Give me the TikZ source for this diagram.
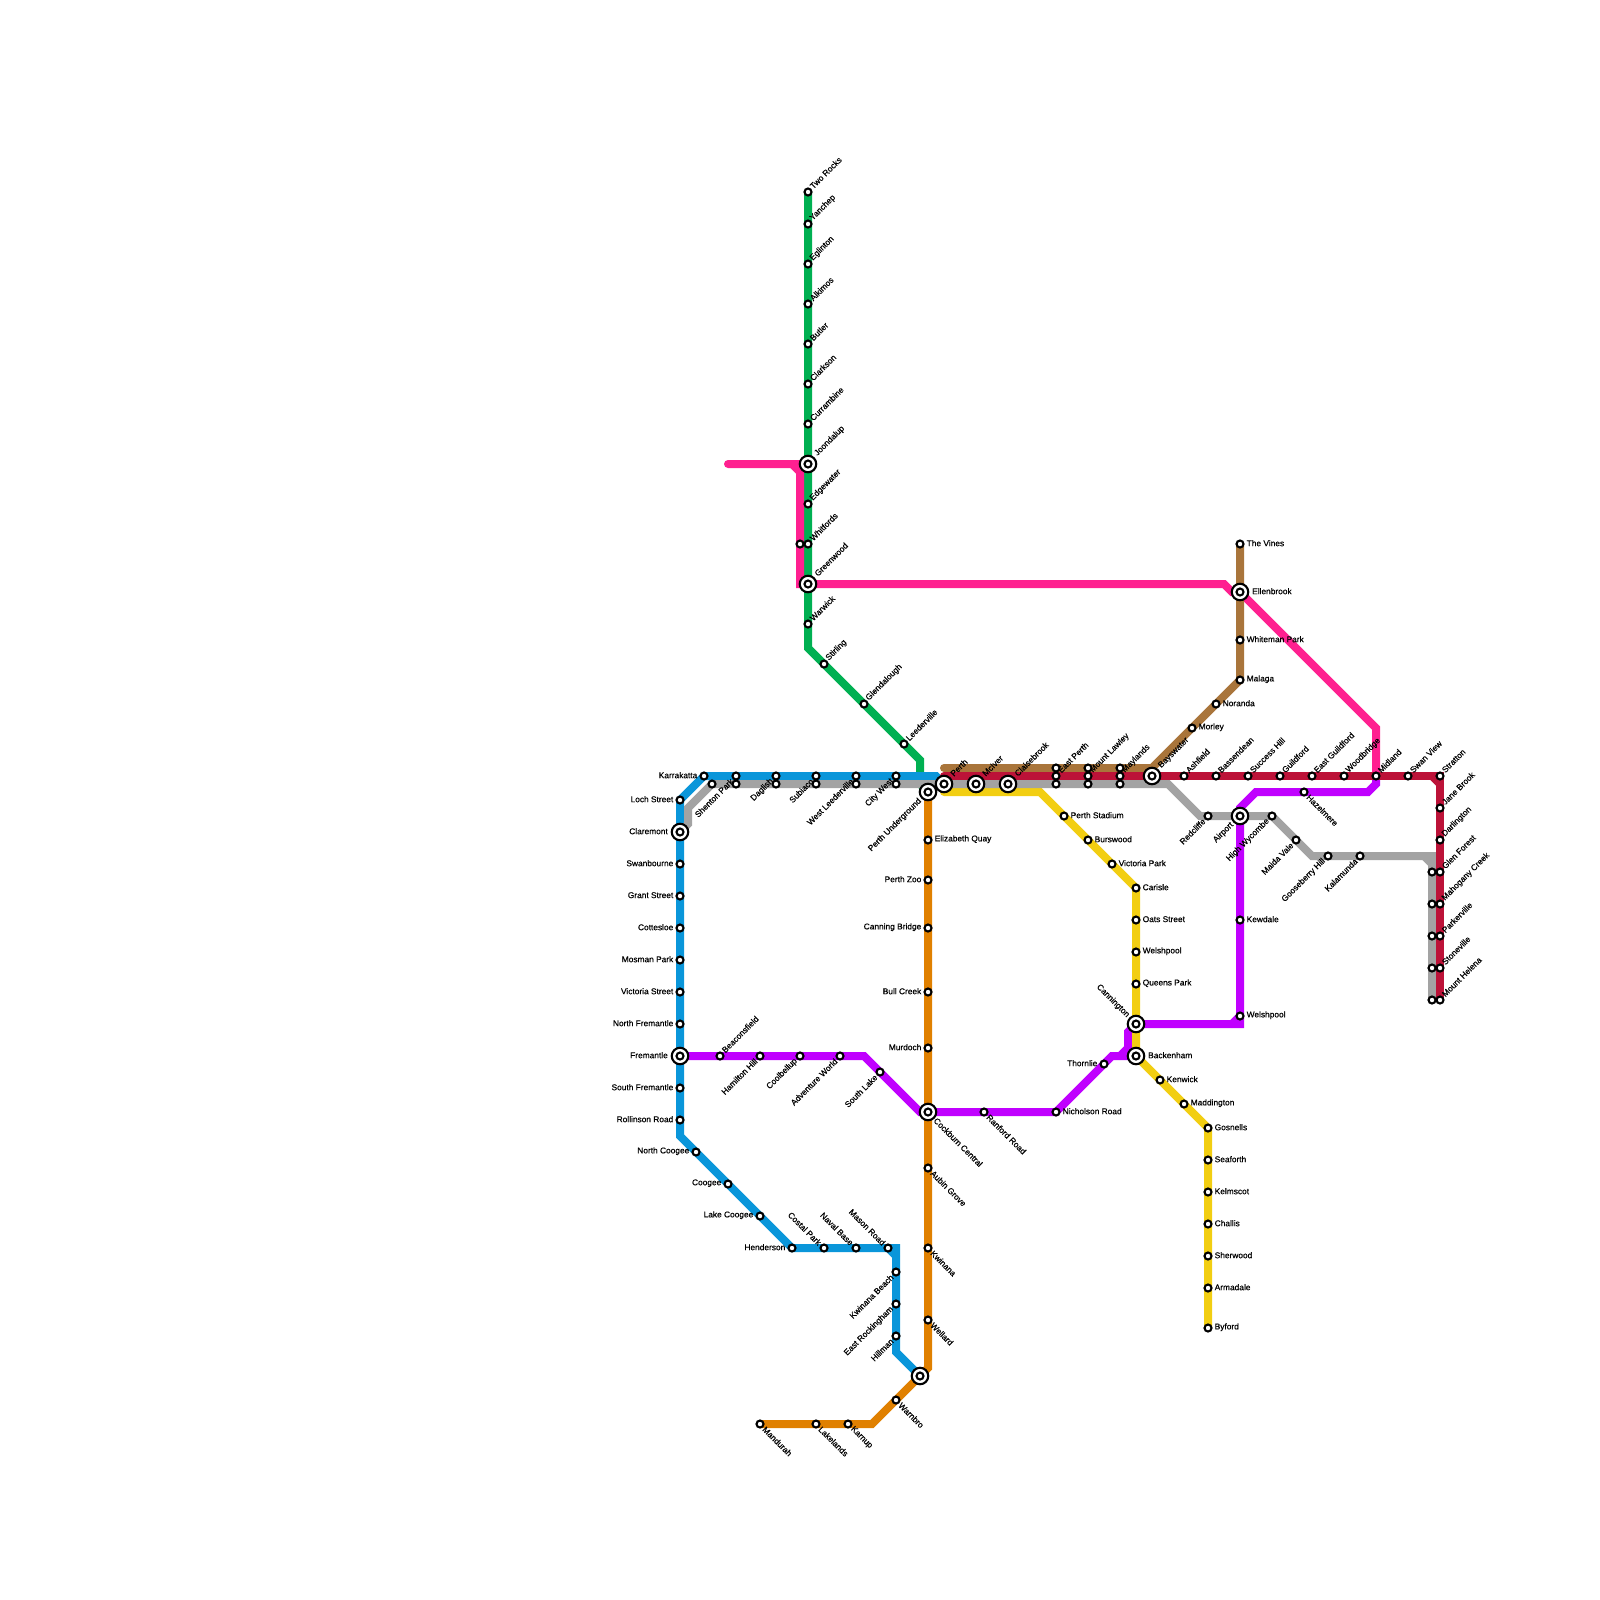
\documentclass[tikz,border=0pt]{standalone}
\usepackage{fontspec}
\setmainfont{Liberation Sans}[FakeBold=0.5]
\usetikzlibrary{backgrounds}
\definecolor{lnblue}{HTML}{0A96DA}
\definecolor{lngreen}{HTML}{00B052}
\definecolor{lnpink}{HTML}{FF2090}
\definecolor{lnorange}{HTML}{E08000}
\definecolor{lnpurple}{HTML}{C000FF}
\definecolor{lnyellow}{HTML}{F2CE12}
\definecolor{lnbrown}{HTML}{A9753B}
\definecolor{lnred}{HTML}{BC1238}
\definecolor{lngrey}{HTML}{A3A3A3}
\tikzset{
  stn/.style    = {circle, draw=black, fill=white, line width=2.1pt, minimum size=7pt, inner sep=0pt},
  stnbig/.style = {circle, draw=black, fill=white, line width=2.1pt, minimum size=16.5pt, inner sep=0pt},
  lbl/.style    = {font=\fontsize{8.35}{9}\selectfont, text=black, inner sep=0pt},
  lblE/.style   = {lbl, anchor=west, xshift=6.5pt, yshift=0.8pt},
  lblW/.style   = {lbl, anchor=east, xshift=-6.5pt, yshift=0.8pt},
  lblNE/.style  = {lbl, anchor=west, rotate=45, xshift=5.5pt, yshift=1pt},
  lblSW/.style  = {lbl, anchor=east, rotate=45, xshift=-5.5pt},
  lblNW/.style  = {lbl, anchor=east, rotate=-45, xshift=-5.5pt},
  lblSE/.style  = {lbl, anchor=west, rotate=-45, xshift=5.5pt},
  bigE/.style   = {lbl, anchor=west, xshift=12pt, yshift=0.8pt},
  bigW/.style   = {lbl, anchor=east, xshift=-12pt, yshift=0.8pt},
  bigNE/.style  = {lbl, anchor=west, rotate=45, xshift=12pt, yshift=1pt},
  bigSW/.style  = {lbl, anchor=east, rotate=45, xshift=-11pt},
  bigNW/.style  = {lbl, anchor=east, rotate=-45, xshift=-11pt},
  bigSE/.style  = {lbl, anchor=west, rotate=-45, xshift=10pt},
  metroln/.style= {line width=8pt, line cap=round, line join=miter},
  lnA/.style    = {metroln, draw=lngreen},
  lnB/.style    = {metroln, draw=lnpink},
  lnC/.style    = {metroln, draw=lnpurple},
  lnD/.style    = {metroln, draw=lnorange},
  lnE/.style    = {metroln, draw=lnblue},
  lnF/.style    = {metroln, draw=lnyellow},
  lnG/.style    = {metroln, draw=lnbrown},
  lnH/.style    = {metroln, draw=lngrey},
  lnI/.style    = {metroln, draw=lnred},
}
\begin{document}
\begin{tikzpicture}[x=1pt, y=-1pt]
  \useasboundingbox (0,0) rectangle (1600,1600);
  \foreach \id/\x/\y/\dir/\txt in {
    twoRocks/808/192/lblNE/Two Rocks, yanchep/808/224/lblNE/Yanchep, eglinton/808/264/lblNE/Eglinton,
    alkimos/808/304/lblNE/Alkimos, butler/808/344/lblNE/Butler, clarkson/808/384/lblNE/Clarkson,
    currambine/808/424/lblNE/Currambine, edgewater/808/504/lblNE/Edgewater, whitfords/808/544/lblNE/Whitfords,
    warwick/808/624/lblNE/Warwick, stirling/824/664/lblNE/Stirling, glendalough/864/704/lblNE/Glendalough,
    leederville/904/744/lblNE/Leederville,
    karrakatta/704/776/lblW/Karrakatta, shentonPark/736/776/lblSW/Shenton Park, daglish/776/776/lblSW/Daglish,
    subiaco/816/776/lblSW/Subiaco, westLeederville/856/776/lblSW/West Leederville, cityWest/896/776/lblSW/City West,
    lochStreet/680/800/lblW/Loch Street, swanbourne/680/864/lblW/Swanbourne, grantStreet/680/896/lblW/Grant Street,
    cottesloe/680/928/lblW/Cottesloe, mosmanPark/680/960/lblW/Mosman Park, victoriaStreet/680/992/lblW/Victoria Street,
    northFremantle/680/1024/lblW/North Fremantle, southFremantle/680/1088/lblW/South Fremantle,
    rollinsonRoad/680/1120/lblW/Rollinson Road, northCoogee/696/1152/lblW/North Coogee, coogee/728/1184/lblW/Coogee,
    lakeCoogee/760/1216/lblW/Lake Coogee, henderson/792/1248/lblW/Henderson, costalPark/824/1248/lblNW/Costal Park,
    navalBase/856/1248/lblNW/Naval Base, masonRoad/888/1248/lblNW/Mason Road, kwinanaBeach/896/1272/lblSW/Kwinana Beach,
    eastRockingham/896/1304/lblSW/East Rockingham, hillman/896/1336/lblSW/Hillman,
    mandurah/760/1424/lblSE/Mandurah, lakelands/816/1424/lblSE/Lakelands, karnup/848/1424/lblSE/Karnup,
    warnbro/896/1400/lblSE/Warnbro, wellard/928/1320/lblSE/Wellard, kwinana/928/1248/lblSE/Kwinana,
    aubinGrove/928/1168/lblSE/Aubin Grove, murdoch/928/1048/lblW/Murdoch, bullCreek/928/992/lblW/Bull Creek,
    canningBridge/928/928/lblW/Canning Bridge, perthZoo/928/880/lblW/Perth Zoo, elizabethQuay/928/840/lblE/Elizabeth Quay,
    beaconsfield/720/1056/lblNE/Beaconsfield, hamiltonHill/760/1056/lblSW/Hamilton Hill, coolbellup/800/1056/lblSW/Coolbellup,
    adventureWorld/840/1056/lblSW/Adventure World, southLake/880/1072/lblSW/South Lake, ranfordRoad/984/1112/lblSE/Ranford Road,
    nicholsonRoad/1056/1112/lblE/Nicholson Road, thornlie/1104/1064/lblW/Thornlie, welshpoolB/1240/1016/lblE/Welshpool,
    kewdale/1240/920/lblE/Kewdale, hazelmere/1304/792/lblSE/Hazelmere,
    perthStadium/1064/816/lblE/Perth Stadium, burswood/1088/840/lblE/Burswood, victoriaPark/1112/864/lblE/Victoria Park,
    carisle/1136/888/lblE/Carisle, oatsStreet/1136/920/lblE/Oats Street, welshpool/1136/952/lblE/Welshpool,
    queensPark/1136/984/lblE/Queens Park, kenwick/1160/1080/lblE/Kenwick, maddington/1184/1104/lblE/Maddington,
    gosnells/1208/1128/lblE/Gosnells, seaforth/1208/1160/lblE/Seaforth, kelmscot/1208/1192/lblE/Kelmscot,
    challis/1208/1224/lblE/Challis, sherwood/1208/1256/lblE/Sherwood, armadale/1208/1288/lblE/Armadale, byford/1208/1328/lblE/Byford,
    theVines/1240/544/lblE/The Vines, whitemanPark/1240/640/lblE/Whiteman Park, malaga/1240/680/lblE/Malaga,
    noranda/1216/704/lblE/Noranda, morley/1192/728/lblE/Morley,
    eastPerth/1056/776/lblNE/East Perth, mountLawley/1088/776/lblNE/Mount Lawley, maylands/1120/776/lblNE/Maylands,
    ashfield/1184/776/lblNE/Ashfield, bassendean/1216/776/lblNE/Bassendean, successHill/1248/776/lblNE/Success Hill,
    guildford/1280/776/lblNE/Guildford, eastGuildford/1312/776/lblNE/East Guildford, woodbridge/1344/776/lblNE/Woodbridge,
    midland/1376/776/lblNE/Midland, swanView/1408/776/lblNE/Swan View, stratton/1440/776/lblNE/Stratton,
    janeBrook/1440/808/lblNE/Jane Brook, darlington/1440/840/lblNE/Darlington, glenForest/1440/872/lblNE/Glen Forest,
    mahoganyCreek/1440/904/lblNE/Mahogany Creek, parkerville/1440/936/lblNE/Parkerville, stoneville/1440/968/lblNE/Stoneville,
    mountHelena/1440/1000/lblNE/Mount Helena,
    redcliffe/1208/816/lblSW/Redcliffe, highWycombe/1272/816/lblSW/High Wycombe, maidaVale/1296/840/lblSW/Maida Vale,
    gooseberryHill/1328/856/lblSW/Gooseberry Hill, kalamunda/1360/856/lblSW/Kalamunda}
    {\node[stn] (\id) at (\x,\y) {}; \node[\dir] (\id-txt) at (\id) {\txt};}
  \foreach \id/\x/\y/\dir/\txt in {
    joondalup/808/464/bigNE/Joondalup, greenwood/808/584/bigNE/Greenwood, claremont/680/832/bigW/Claremont,
    fremantle/680/1056/bigW/Fremantle, perthUnderground/928/792/bigSW/Perth Underground,
    cockburnCentral/928/1112/bigSE/Cockburn Central, perth/944/784/bigNE/Perth, mcIver/976/784/bigNE/McIver,
    claisebrook/1008/784/bigNE/Claisebrook, bayswater/1152/776/bigNE/Bayswater, ellenbrook/1240/592/bigE/Ellenbrook,
    airport/1240/816/bigSW/Airport, cannington/1136/1024/bigNW/Cannington, backenham/1136/1056/bigE/Backenham}
    {\node[stnbig] (\id) at (\x,\y) {}; \node[stn] (\id-in) at (\id) {}; \node[\dir] (\id-txt) at (\id) {\txt};}
  \node[stnbig] (peelJct) at (920,1376) {};
  \node[stn] (peelJct-in) at (peelJct) {};
  \foreach \id/\x/\y in {
    whitfordsB/800/544, karrakattaB/712/784, shentonParkB/736/784, daglishB/776/784, subiacoB/816/784,
    westLeedervilleB/856/784, cityWestB/896/784, eastPerthA/1056/768, eastPerthC/1056/784,
    mountLawleyA/1088/768, mountLawleyC/1088/784, maylandsA/1120/768, maylandsC/1120/784,
    glenForestB/1432/872, mahoganyCreekB/1432/904, parkervilleB/1432/936, stonevilleB/1432/968, mountHelenaB/1432/1000}
    {\node[stn] (\id) at (\x,\y) {};}
  \foreach \id/\x/\y in {
    greenA/808/648, greenB/920/760, greenC/920/784,
    pinkA/728/464, pinkB/800/464, pinkC/800/584, pinkD/1224/584, pinkE/1232/592, pinkF/1376/728, pinkG/792/464, pinkH/800/472,
    purpleA/864/1056, purpleB/920/1112, purpleC/1112/1056, purpleD/1120/1056, purpleE/1128/1048, purpleF/1128/1032,
    purpleG/1240/1024, purpleH/1232/1024, purpleI/1240/1016, purpleJ/1240/808, purpleK/1256/792, purpleL/1368/792, purpleM/1376/784,
    orangeA/872/1424, orangeB/928/1368,
    blueA/896/1352, blueB/896/1248, blueC/888/1248, blueD/896/1256, blueE/680/1136, blueF/936/776,
    yellowA/944/792, yellowB/1040/792,
    brownA/944/768, brownB/1152/768,
    greyA/688/824, greyB/688/808, greyC/1168/784, greyD/1200/816, greyE/1312/856, greyF/1432/856, greyG/1424/856, greyH/1432/864,
    redA/944/776, redB/1432/776, redC/1440/784}
    {\coordinate (\id) at (\x,\y);}
  \begin{scope}[on background layer]
    \draw[lnA] (twoRocks.center) \foreach \p in {yanchep,eglinton,alkimos,butler,clarkson,currambine,joondalup,edgewater,whitfords,greenwood,warwick,greenA,stirling,glendalough,leederville,greenB,greenC,perthUnderground}{ -- (\p.center)};
    \draw[lnB] (pinkA.center) \foreach \p in {pinkB,whitfordsB,pinkC,greenwood,pinkD,pinkE,ellenbrook,pinkF,midland}{ -- (\p.center)};
    \draw[lnC] (fremantle.center) \foreach \p in {beaconsfield,hamiltonHill,coolbellup,adventureWorld,purpleA,southLake,purpleB,cockburnCentral,ranfordRoad,nicholsonRoad,thornlie,purpleC,backenham}{ -- (\p.center)};
    \draw[lnC] (purpleD.center) \foreach \p in {purpleE,purpleF,cannington,purpleG,welshpoolB,kewdale,airport,purpleJ,purpleK,hazelmere,purpleL,purpleM,midland}{ -- (\p.center)};
    \draw[lnD] (mandurah.center) \foreach \p in {lakelands,karnup,orangeA,warnbro,peelJct,orangeB,wellard,kwinana,aubinGrove,cockburnCentral,murdoch,bullCreek,canningBridge,perthZoo,elizabethQuay,perthUnderground}{ -- (\p.center)};
    \draw[lnE] (peelJct.center) \foreach \p in {blueA,hillman,eastRockingham,kwinanaBeach,blueB,masonRoad,navalBase,costalPark,henderson,lakeCoogee,coogee,northCoogee,blueE,rollinsonRoad,southFremantle,fremantle,northFremantle,victoriaStreet,mosmanPark,cottesloe,grantStreet,swanbourne,claremont,lochStreet,karrakatta,shentonPark,daglish,subiaco,westLeederville,cityWest,blueF,perth}{ -- (\p.center)};
    \draw[lnF] (yellowA.center) \foreach \p in {yellowB,perthStadium,burswood,victoriaPark,carisle,oatsStreet,welshpool,queensPark,cannington,backenham,kenwick,maddington,gosnells,seaforth,kelmscot,challis,sherwood,armadale,byford}{ -- (\p.center)};
    \draw[lnG] (brownA.center) \foreach \p in {eastPerthA,mountLawleyA,maylandsA,brownB,morley,noranda,malaga,whitemanPark,ellenbrook,theVines}{ -- (\p.center)};
    \draw[lnH] (claremont.center) \foreach \p in {greyA,greyB,karrakattaB,shentonParkB,daglishB,subiacoB,westLeedervilleB,cityWestB,perth,mcIver,claisebrook,eastPerthC,mountLawleyC,maylandsC,greyC,greyD,redcliffe,airport,highWycombe,maidaVale,greyE,gooseberryHill,kalamunda,greyF,glenForestB,mahoganyCreekB,parkervilleB,stonevilleB,mountHelenaB}{ -- (\p.center)};
    \draw[lnI] (redA.center) \foreach \p in {eastPerth,mountLawley,maylands,bayswater,ashfield,bassendean,successHill,guildford,eastGuildford,woodbridge,midland,swanView,stratton,janeBrook,darlington,glenForest,mahoganyCreek,parkerville,stoneville,mountHelena}{ -- (\p.center)};
    \foreach \a/\b/\c in {pinkG/pinkH/lnB, purpleH/purpleI/lnC, blueC/blueD/lnE, greyG/greyH/lnH, redB/redC/lnI}
      {\draw[\c] (\a.center) -- (\b.center);}
  \end{scope}
\end{tikzpicture}
\end{document}
